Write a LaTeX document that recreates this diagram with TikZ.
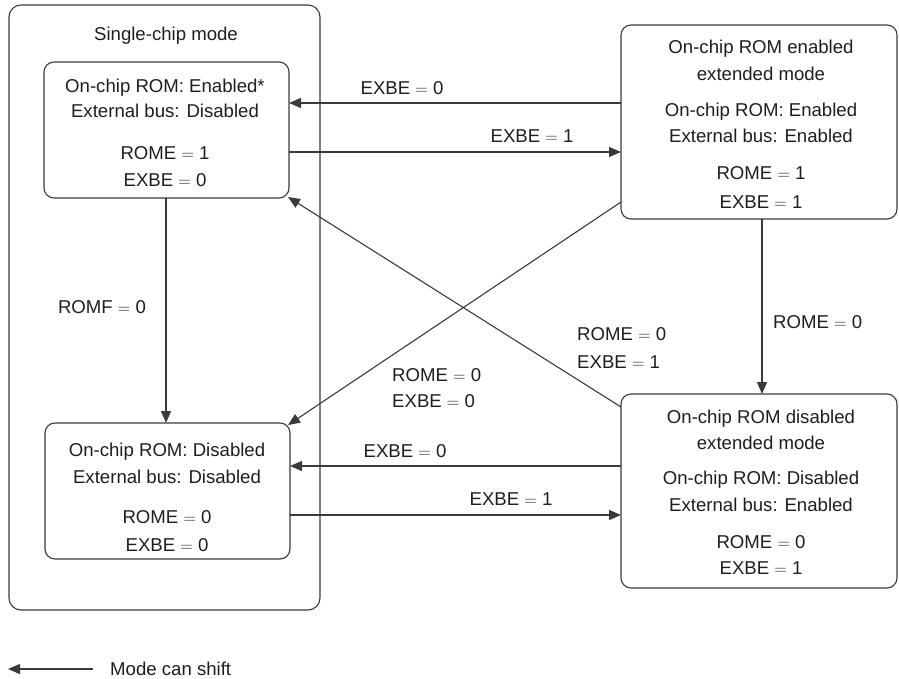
\documentclass[tikz,border=0pt]{standalone}
\usepackage{fontspec}
\setmainfont{Liberation Sans}
\usetikzlibrary{arrows.meta,calc}
\definecolor{ln}{HTML}{3A3A3A}
\definecolor{tx}{HTML}{1E1E1E}
\newcommand{\eqs}{ $=$ }
\begin{document}
\begin{tikzpicture}[x=1pt,y=-1pt,
  box/.style={draw=ln,line width=1.1pt,rounded corners=10pt,inner sep=0pt,outer sep=0pt},
  arr/.style={draw=ln,line width=1.1pt,-{Triangle[length=12pt,width=10pt]}},
  txt/.style={text=tx,font=\fontsize{18.6}{22}\selectfont,inner sep=0pt,anchor=base},
  lbl/.style={txt,anchor=base west}]
\useasboundingbox (0,0) rectangle (899,679);
% boxes
\node[box,rounded corners=12pt,minimum width=311pt,minimum height=605pt] (S) at (164.5,307.5) {};
\node[box,minimum width=245pt,minimum height=136pt] (A) at (166.5,130) {};
\node[box,minimum width=245pt,minimum height=136pt] (B) at (167.5,491) {};
\node[box,minimum width=276pt,minimum height=194pt] (C) at (759,122) {};
\node[box,minimum width=276pt,minimum height=194pt] (D) at (759,491) {};
% texts
\node[txt] (s0) at (166,41) {Single-chip mode};
\node[txt] (a1) at (165,93) {On-chip ROM: Enabled*};
\node[txt] (a2) at (165,118) {External bus: Disabled};
\node[txt] (a3) at (165,160) {ROME\eqs1};
\node[txt] (a4) at (165,186) {EXBE\eqs0};
\node[txt] (b1) at (167,456) {On-chip ROM: Disabled};
\node[txt] (b2) at (167,483) {External bus: Disabled};
\node[txt] (b3) at (167,523) {ROME\eqs0};
\node[txt] (b4) at (167,551) {EXBE\eqs0};
\node[txt] (c1) at (761,54) {On-chip ROM enabled};
\node[txt] (c2) at (761,81) {extended mode};
\node[txt] (c3) at (761,117) {On-chip ROM: Enabled};
\node[txt] (c4) at (761,143) {External bus: Enabled};
\node[txt] (c5) at (761,180) {ROME\eqs1};
\node[txt] (c6) at (761,208) {EXBE\eqs1};
\node[txt] (d1) at (761,423) {On-chip ROM disabled};
\node[txt] (d2) at (761,449) {extended mode};
\node[txt] (d3) at (761,484) {On-chip ROM: Disabled};
\node[txt] (d4) at (761,511) {External bus: Enabled};
\node[txt] (d5) at (761,548) {ROME\eqs0};
\node[txt] (d6) at (761,574) {EXBE\eqs1};
% connectors
\draw[arr] (C.west |- 0,103) -- (A.east |- 0,103);
\draw[arr] (A.east |- 0,152) -- (C.west |- 0,152);
\draw[arr] (A.south -| 166,0) -- (B.north -| 166,0);
\draw[arr] (C.south -| 762,0) -- (D.north -| 762,0);
\draw[arr] (C.west |- 0,202) -- ($(B.north east)+(-2,2)$);
\draw[arr] (D.west |- 0,407) -- ($(A.south east)+(-1,-1)$);
\draw[arr] (D.west |- 0,466) -- (B.east |- 0,466);
\draw[arr] (B.east |- 0,515) -- (D.west |- 0,515);
% labels
\node[txt] (l1) at (402,95) {EXBE\eqs0};
\node[txt] (l2) at (532,143) {EXBE\eqs1};
\node[txt] (l3) at (102,313) {ROMF\eqs0};
\node[lbl] (l4) at (773,328) {ROME\eqs0};
\node[lbl] (l5) at (577,340) {ROME\eqs0};
\node[lbl] (l6) at (577,368) {EXBE\eqs1};
\node[lbl] (l7) at (392,381) {ROME\eqs0};
\node[lbl] (l8) at (392,407) {EXBE\eqs0};
\node[txt] (l9) at (405,457) {EXBE\eqs0};
\node[txt] (l10) at (511,505) {EXBE\eqs1};
% legend
\coordinate (L1) at (93,669);
\coordinate (L0) at (8,669);
\draw[arr] (L1) -- (L0);
\node[lbl] (leg) at (110,675) {Mode can shift};
\end{tikzpicture}
\end{document}
